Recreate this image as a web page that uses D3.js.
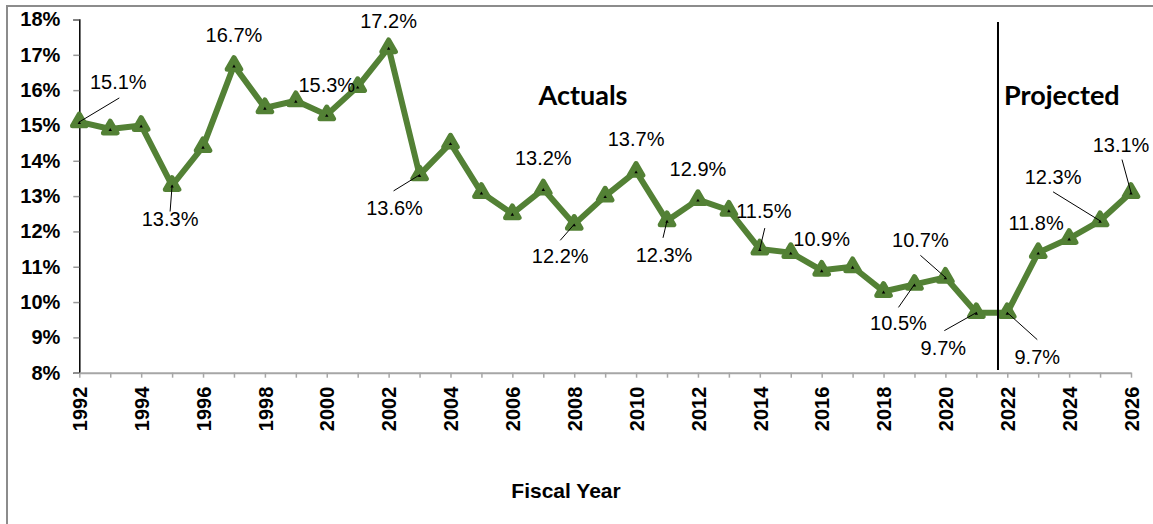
<!DOCTYPE html>
<html>
<head>
<meta charset="utf-8">
<script src="https://cdn.jsdelivr.net/npm/d3@7"></script>
<style>
  body { margin: 0; background: #fff; }
  svg { display: block; font-family: "Liberation Sans", Arial, sans-serif; }
</style>
</head>
<body>
<svg id="chart" width="1153" height="524"></svg>
<script>
'use strict';
// Fiscal years and the rate for each year (percent)
const years = d3.range(1992, 2027);
const rates = [15.1, 14.9, 15.0, 13.3, 14.4, 16.7, 15.5, 15.7, 15.3, 16.1,
  17.2, 13.6, 14.5, 13.1, 12.5, 13.2, 12.2, 13.0, 13.7, 12.3,
  12.9, 12.6, 11.5, 11.4, 10.9, 11.0, 10.3, 10.5, 10.7, 9.7,
  9.7, 11.4, 11.8, 12.3, 13.1];
const labelledYears = [1992, 1995, 1997, 2000, 2002, 2003, 2007, 2008, 2010, 2011,
  2012, 2014, 2016, 2019, 2020, 2021, 2022, 2024, 2025, 2026];
const yTicks = [8, 9, 10, 11, 12, 13, 14, 15, 16, 17, 18];
const xLabelYears = d3.range(1992, 2027, 2);
const projectionStart = 2021.7;
const sectionTitles = ['Actuals', 'Projected'];
const xTitle = 'Fiscal Year';

// label placement: [label dx, label dy, leader dx, leader dy] from the point
const labelPos = {
  1992: [39, -40, 40, -24], 1995: [-2, 33, -2, 26], 1997: [0, -30], 2000: [0, -30],
  2002: [0, -27], 2003: [-25, 33, -26, 16], 2007: [0, -31], 2008: [-14, 32, -14, 16],
  2010: [0, -32], 2011: [-3, 34, -4, 17], 2012: [0, -31], 2014: [4, -38, 5, -21],
  2016: [0, -31], 2019: [-16, 39, -16, 23], 2020: [-25, -37, -25, -22],
  2021: [-33, 35, -32, 18], 2022: [30, 44, 30, 27], 2024: [-33, -15],
  2025: [-47, -44, -47, -29], 2026: [-10, -48, -9, -33]
};

const data = years.map((yr, i) => ({ year: yr, value: rates[i] }));

const svg = d3.select('#chart');
const x = d3.scaleLinear().domain([1992, 2026]).range([79.3, 1131]);
const y = d3.scaleLinear().domain([8, 18]).range([372.7, 19.5]);
const green = '#538135';

// outer border
svg.append('rect')
  .attr('x', 7).attr('y', 6)
  .attr('width', 1160).attr('height', 530)
  .attr('fill', 'none').attr('stroke', '#8c8c8c').attr('stroke-width', 2);

// y axis
const yAxis = svg.append('g')
  .attr('transform', `translate(${x(1992)},0)`)
  .call(d3.axisLeft(y).tickValues(yTicks).tickSize(6).tickPadding(13).tickFormat(d => d + '%'));
yAxis.select('.domain').attr('stroke', '#000').attr('stroke-width', 1.5);
yAxis.selectAll('.tick line').attr('stroke', '#999').attr('stroke-width', 1.5);
yAxis.selectAll('.tick text')
  .attr('font-family', '"Liberation Sans", Arial, sans-serif')
  .attr('font-size', 20).attr('font-weight', 'bold').attr('fill', '#000');

// x axis
const xAxis = svg.append('g')
  .attr('transform', `translate(0,${y(8)})`)
  .call(d3.axisBottom(x).tickValues(years).tickSize(5).tickSizeOuter(0)
    .tickFormat(d => xLabelYears.includes(d) ? d : ''));
xAxis.select('.domain').attr('stroke', '#a6a6a6').attr('stroke-width', 2);
xAxis.selectAll('.tick line').attr('stroke', '#a6a6a6').attr('stroke-width', 1.5);
xAxis.selectAll('.tick text')
  .attr('font-family', '"Liberation Sans", Arial, sans-serif')
  .attr('font-size', 20).attr('font-weight', 'bold').attr('fill', '#000')
  .attr('text-anchor', 'end')
  .attr('transform', 'rotate(-90)')
  .attr('x', -14).attr('y', 0).attr('dy', '0.36em');

// line
svg.append('path')
  .datum(data)
  .attr('fill', 'none')
  .attr('stroke', green)
  .attr('stroke-width', 6)
  .attr('stroke-linejoin', 'round')
  .attr('d', d3.line().x(d => x(d.year)).y(d => y(d.value)));

// triangle markers
const marker = d3.symbol().type(d3.symbolTriangle).size(80);
const dot = d3.symbol().type(d3.symbolTriangle).size(5);
svg.append('g').selectAll('path')
  .data(data).enter().append('path')
  .attr('transform', d => `translate(${x(d.year)},${y(d.value)})`)
  .attr('d', marker)
  .attr('fill', green).attr('stroke', green)
  .attr('stroke-width', 5).attr('stroke-linejoin', 'round');
svg.append('g').selectAll('path')
  .data(data).enter().append('path')
  .attr('transform', d => `translate(${x(d.year)},${y(d.value) + 1})`)
  .attr('d', dot)
  .attr('fill', '#000');

// projection divider
svg.append('line')
  .attr('x1', x(projectionStart)).attr('x2', x(projectionStart))
  .attr('y1', 22).attr('y2', 370)
  .attr('stroke', '#000').attr('stroke-width', 2);

// data labels with leader lines
const labelled = data.filter(d => labelledYears.includes(d.year));
svg.append('g').selectAll('line')
  .data(labelled.filter(d => labelPos[d.year].length > 2))
  .enter().append('line')
  .attr('x1', d => x(d.year) + labelPos[d.year][2])
  .attr('y1', d => y(d.value) + labelPos[d.year][3])
  .attr('x2', d => x(d.year))
  .attr('y2', d => y(d.value))
  .attr('stroke', '#000').attr('stroke-width', 1);
svg.append('g').selectAll('text')
  .data(labelled).enter().append('text')
  .attr('x', d => x(d.year) + labelPos[d.year][0])
  .attr('y', d => y(d.value) + labelPos[d.year][1])
  .attr('dy', '0.35em')
  .attr('text-anchor', 'middle')
  .attr('font-size', 20)
  .attr('fill', '#000')
  .text(d => d.value.toFixed(1) + '%');

// section titles
svg.append('text')
  .attr('x', 583).attr('y', 105)
  .attr('text-anchor', 'middle')
  .attr('font-family', 'Lato, "Open Sans", sans-serif')
  .attr('font-weight', 'bold').attr('font-size', 27)
  .text(sectionTitles[0]);
svg.append('text')
  .attr('x', 1004).attr('y', 105)
  .attr('font-family', 'Lato, "Open Sans", sans-serif')
  .attr('font-weight', 'bold').attr('font-size', 27)
  .text(sectionTitles[1]);

// axis title
svg.append('text')
  .attr('x', 566).attr('y', 498)
  .attr('text-anchor', 'middle')
  .attr('font-weight', 'bold').attr('font-size', 21)
  .text(xTitle);
</script>
</body>
</html>
